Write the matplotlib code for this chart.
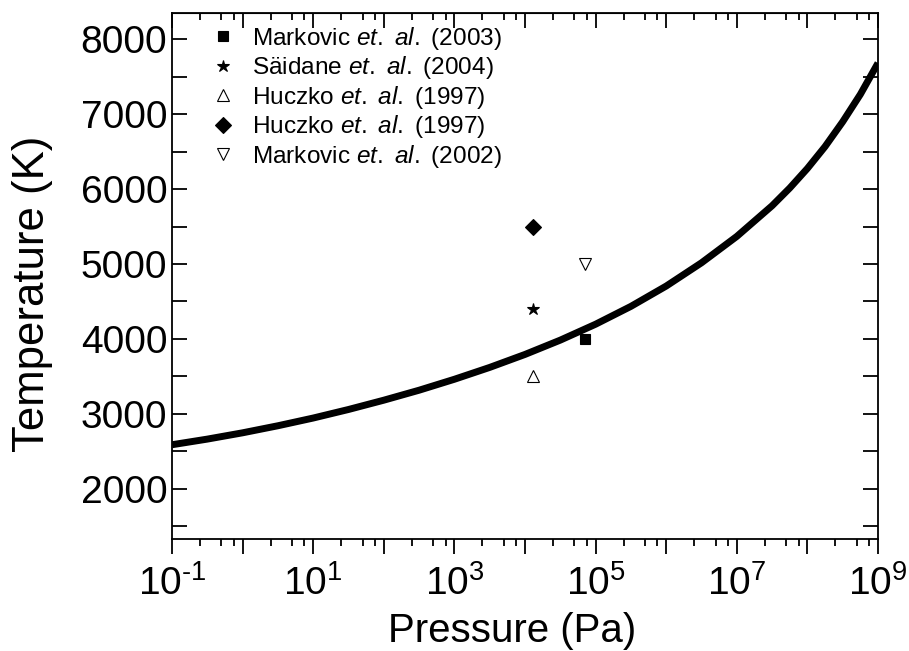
import numpy as np
import matplotlib
matplotlib.use('Agg')
import matplotlib.pyplot as plt
from matplotlib.ticker import LogLocator, MultipleLocator, NullFormatter

plt.rcParams['font.family'] = ['Liberation Sans', 'DejaVu Sans']
plt.rcParams['mathtext.fontset'] = 'custom'
plt.rcParams['mathtext.rm'] = 'Liberation Sans'
plt.rcParams['mathtext.it'] = 'Liberation Sans:italic'

# curve (log10 of pressure in Pa, temperature in K)
curve_logp = [-1, -0.5, 0, 0.5, 1, 1.5, 2, 2.5, 3, 3.5, 4, 4.5, 5, 5.5, 6, 6.5,
              7, 7.5, 7.75, 8, 8.25, 8.5, 8.75, 9]
curve_T = [2590, 2665, 2749, 2843, 2946, 3060, 3184, 3317, 3463, 3621, 3794, 3985,
           4197, 4435, 4706, 5016, 5368, 5777, 6013, 6274, 6566, 6897, 7262, 7680]

# literature points
labels = ['Markovic $\\it{et.\\ al.}$ (2003)', 'S\u00e4idane $\\it{et.\\ al.}$ (2004)',
          'Huczko $\\it{et.\\ al.}$ (1997)', 'Huczko $\\it{et.\\ al.}$ (1997)',
          'Markovic $\\it{et.\\ al.}$ (2002)']
pts_P = [7.1e4, 1.3e4, 1.3e4, 1.3e4, 7.1e4]
pts_T = [4000, 4400, 3500, 5500, 5000]
markers = ['s', '*', '^', 'D', 'v']
filled = [True, True, False, True, False]
msizes = [7, 9, 9, 8, 9]

fig = plt.figure(figsize=(9.09, 6.51), dpi=100)
ax = fig.add_axes([172/909, 1-539/651, 706/909, 526/651])

ax.plot(10**np.array(curve_logp), curve_T, color='black', lw=5, zorder=2,
        solid_joinstyle='round', solid_capstyle='butt')
for i in range(len(labels)):
    ax.plot(pts_P[i], pts_T[i], linestyle='none', marker=markers[i], ms=msizes[i],
            mfc='black' if filled[i] else 'white', mec='black', mew=0.8,
            label=labels[i], zorder=3)

ax.set_xscale('log')
ax.set_xlim(1e-1, 1e9)
ax.set_ylim(1333, 8347)


def xlab(v, p):
    e = int(round(np.log10(v)))
    if e % 2 == 0:
        return ''
    return '$10^{\\text{%d}}$' % e


ax.xaxis.set_major_locator(LogLocator(base=10, numticks=20))
ax.xaxis.set_minor_locator(LogLocator(base=10, subs=[2.5, 5, 7.5], numticks=20))
ax.xaxis.set_major_formatter(plt.FuncFormatter(xlab))
ax.xaxis.set_minor_formatter(NullFormatter())
ax.yaxis.set_major_locator(MultipleLocator(1000))
ax.yaxis.set_minor_locator(MultipleLocator(500))

ax.tick_params(axis='x', which='both', direction='out', top=False, labelsize=28, width=1.3, pad=8)
ax.tick_params(axis='x', which='major', length=11)
ax.tick_params(axis='x', which='minor', length=5)
ax.tick_params(axis='y', which='both', direction='in', length=11, width=1.3, labelsize=28)
sec = ax.secondary_xaxis('top')
sec.xaxis.set_major_locator(LogLocator(base=10, numticks=20))
sec.xaxis.set_minor_locator(LogLocator(base=10, subs=[2.5, 5, 7.5], numticks=20))
sec.xaxis.set_major_formatter(NullFormatter())
sec.xaxis.set_minor_formatter(NullFormatter())
sec.tick_params(which='both', direction='in', width=1.3)
sec.tick_params(which='major', length=11)
sec.tick_params(which='minor', length=5)
ax.yaxis.set_ticks_position('both')
ax.tick_params(axis='y', which='both', right=True, labelright=False)
for s in ax.spines.values():
    s.set_linewidth(1.3)

ax.set_xlabel('Pressure (Pa)', fontsize=29, labelpad=6)
ax.xaxis.label.set_x(0.4816)
ax.set_ylabel('Temperature (K)', fontsize=31.5, labelpad=20)
ax.yaxis.label.set_y(0.466)

ax.legend(loc='upper left', bbox_to_anchor=(211/909, 1-25/651), bbox_transform=fig.transFigure,
          frameon=False, fontsize=17.6, handlelength=1.0, handletextpad=0.68,
          labelspacing=0.1, borderpad=0, borderaxespad=0)

fig.savefig('out.png', dpi=100)
